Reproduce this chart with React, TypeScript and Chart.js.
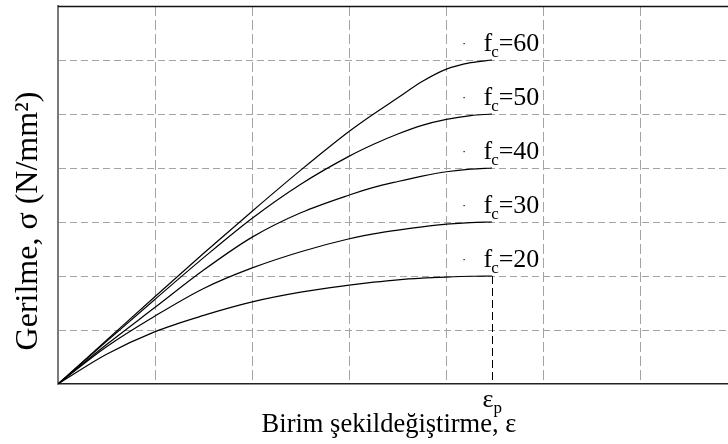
import React, { useEffect, useRef } from "react";
import { Chart, registerables } from "chart.js";

Chart.register(...registerables);

// strain in grid units (each dashed vertical line = 1 unit)
const strainPoints = [0, 0.5, 1, 1.5, 2, 2.5, 3, 3.25, 3.5, 3.75, 4, 4.25, 4.47];
const fcValues = [20, 30, 40, 50, 60];
const stress20 = [0, 5.5, 9.7, 12.7, 15.2, 17.0, 18.3, 18.85, 19.3, 19.6, 19.8, 19.95, 20];
const stress30 = [0, 6.9, 12.6, 17.7, 21.5, 24.5, 26.9, 27.8, 28.5, 29.1, 29.6, 29.9, 30];
const stress40 = [0, 7.3, 14.2, 21.1, 27.2, 31.7, 35.0, 36.4, 37.5, 38.5, 39.3, 39.8, 40];
const stress50 = [0, 7.9, 15.7, 23.4, 30.7, 37.0, 42.2, 44.4, 46.3, 47.9, 49.0, 49.7, 50];
const stress60 = [0, 8.1, 16.2, 24.2, 32.0, 39.6, 46.8, 50.0, 53.0, 56.0, 58.3, 59.5, 60];
const epsP = 4.47;
const xMax = 6.9;
const yMax = 70;
const yStep = 10;

const xTitle = "Birim şekildeğiştirme, ε";
const yTitle = "Gerilme, σ (N/mm²)";
const epsLabel = "ε";
const epsSub = "p";
const fcBase = "f";
const fcSub = "c";

const FONT = "'Liberation Serif', 'Times New Roman', serif";

const allStress = [stress20, stress30, stress40, stress50, stress60];

const overlay = {
  id: "overlay",
  afterDraw(chart: any) {
    const { ctx, chartArea, scales } = chart;
    const xs = scales.x;
    const ys = scales.y;
    ctx.save();
    // top frame line
    ctx.strokeStyle = "#111";
    ctx.lineWidth = 1.5;
    ctx.beginPath();
    ctx.moveTo(chartArea.left, chartArea.top + 0.5);
    ctx.lineTo(chartArea.right, chartArea.top + 0.5);
    ctx.stroke();

    // epsilon_p dashed line
    const xp = Math.round(xs.getPixelForValue(epsP)) + 0.5;
    ctx.strokeStyle = "#000";
    ctx.lineWidth = 1;
    ctx.setLineDash([8, 4]);
    ctx.beginPath();
    ctx.moveTo(xp, ys.getPixelForValue(fcValues[0]));
    ctx.lineTo(xp, ys.getPixelForValue(0));
    ctx.stroke();
    ctx.setLineDash([]);

    ctx.fillStyle = "#000";
    ctx.textBaseline = "alphabetic";
    ctx.textAlign = "left";
    // curve labels
    fcValues.forEach((fc) => {
      const yEnd = ys.getPixelForValue(fc);
      const base = yEnd - 9;
      const tx = xp - 9;
      ctx.font = `26px ${FONT}`;
      ctx.fillText(fcBase, tx, base);
      const fw = ctx.measureText(fcBase).width;
      ctx.font = `17px ${FONT}`;
      ctx.fillText(fcSub, tx + fw - 1, base + 6);
      const cw = ctx.measureText(fcSub).width;
      ctx.font = `26px ${FONT}`;
      ctx.fillText("=" + fc, tx + fw + cw - 1, base);
      // small dot
      ctx.fillRect(xp - 29, base - 8, 1.2, 1.2);
    });

    // epsilon_p label
    ctx.font = `26px ${FONT}`;
    ctx.fillText(epsLabel, xp - 10, 407);
    const ew = ctx.measureText(epsLabel).width;
    ctx.font = `17px ${FONT}`;
    ctx.fillText(epsSub, xp - 10 + ew, 413);

    // x title
    ctx.font = `26.5px ${FONT}`;
    ctx.textAlign = "center";
    ctx.fillText(xTitle, 389, 432);

    // y title
    ctx.save();
    ctx.translate(37, 221);
    ctx.rotate(-Math.PI / 2);
    ctx.textAlign = "center";
    ctx.font = `32px ${FONT}`;
    ctx.fillText(yTitle, 0, 0);
    ctx.restore();

    ctx.restore();
  },
};

export default function App() {
  const ref = useRef<HTMLCanvasElement | null>(null);
  useEffect(() => {
    document.body.style.margin = "0";
    const canvas = ref.current;
    if (!canvas) return;
    const chart = new Chart(canvas, {
      type: "line",
      data: {
        datasets: allStress.map((arr, i) => ({
          label: "fc=" + fcValues[i],
          data: strainPoints.map((x, j) => ({ x, y: arr[j] })),
          borderColor: "#000",
          borderWidth: 1.2,
          pointRadius: 0,
          fill: false,
          cubicInterpolationMode: "monotone" as const,
        })),
      },
      options: {
        animation: false,
        responsive: false,
        devicePixelRatio: 1,
        layout: { padding: { left: 58, top: 6, right: 0, bottom: 60 } },
        plugins: { legend: { display: false }, tooltip: { enabled: false } },
        scales: {
          x: {
            type: "linear",
            min: 0,
            max: xMax,
            ticks: { display: false, stepSize: 1, includeBounds: false },
            grid: {
              drawTicks: false,
              color: (c: any) => (c.tick && c.tick.value > 0 ? "#a4a4a4" : "rgba(0,0,0,0)"),
              lineWidth: 1,
            },
            border: { display: true, color: "#222", width: 1.5, dash: [10, 4] },
          },
          y: {
            type: "linear",
            min: 0,
            max: yMax,
            ticks: { display: false, stepSize: yStep },
            grid: {
              drawTicks: false,
              color: (c: any) =>
                c.tick && c.tick.value > 0 && c.tick.value < yMax ? "#a4a4a4" : "rgba(0,0,0,0)",
              lineWidth: 1,
            },
            border: { display: true, color: "#7a7a7a", width: 2, dash: [7, 4] },
          },
        },
      },
      plugins: [overlay],
    });
    return () => chart.destroy();
  }, []);
  return (
    <div style={{ width: 728, height: 444 }}>
      <canvas ref={ref} width={728} height={444} style={{ display: "block" }} />
    </div>
  );
}
